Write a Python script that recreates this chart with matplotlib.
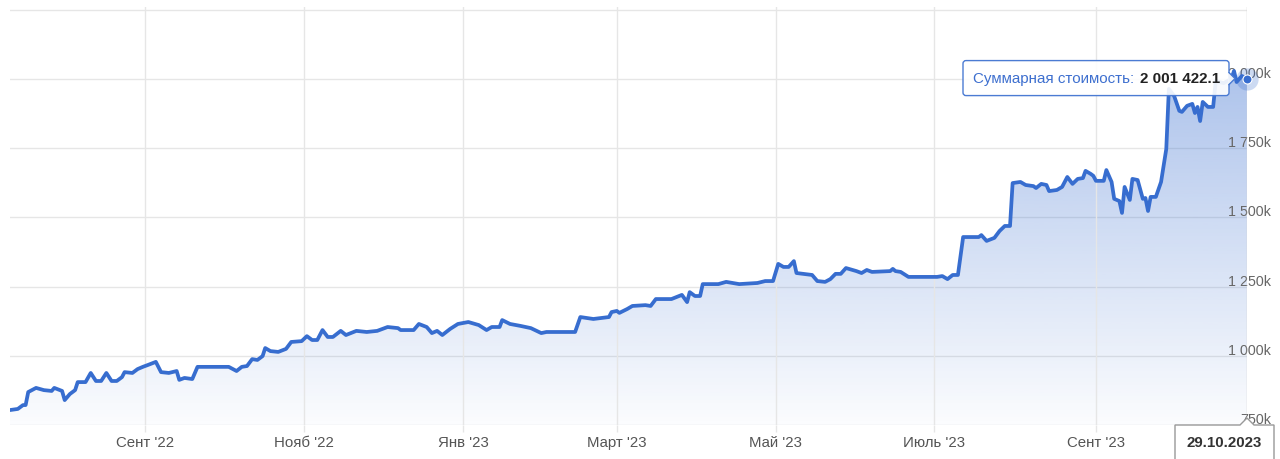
import matplotlib
matplotlib.use("Agg")
import numpy as np
import pandas as pd
import matplotlib.pyplot as plt
import matplotlib.dates as mdates
from matplotlib.colors import to_rgb
from matplotlib.patches import FancyBboxPatch, Polygon
from matplotlib.transforms import IdentityTransform

plt.rcParams["font.family"] = ["Liberation Sans", "DejaVu Sans"]

# portfolio value, thousands
dates = [
    "2022-07-11", "2022-07-14", "2022-07-16", "2022-07-17", "2022-07-18", "2022-07-21",
    "2022-07-24", "2022-07-27", "2022-07-28", "2022-07-31", "2022-08-01", "2022-08-03",
    "2022-08-05", "2022-08-06", "2022-08-09", "2022-08-11", "2022-08-13", "2022-08-15",
    "2022-08-17", "2022-08-19", "2022-08-21", "2022-08-23", "2022-08-24", "2022-08-27",
    "2022-08-29", "2022-08-31", "2022-09-02", "2022-09-05", "2022-09-07", "2022-09-10",
    "2022-09-13", "2022-09-14", "2022-09-16", "2022-09-19", "2022-09-21", "2022-10-03",
    "2022-10-06", "2022-10-08", "2022-10-10", "2022-10-12", "2022-10-14", "2022-10-16",
    "2022-10-17", "2022-10-19", "2022-10-22", "2022-10-25", "2022-10-27", "2022-10-31",
    "2022-11-02", "2022-11-04", "2022-11-06", "2022-11-08", "2022-11-10", "2022-11-12",
    "2022-11-15", "2022-11-17", "2022-11-21", "2022-11-25", "2022-11-29", "2022-12-03",
    "2022-12-07", "2022-12-08", "2022-12-13", "2022-12-15", "2022-12-18", "2022-12-20",
    "2022-12-22", "2022-12-24", "2022-12-27", "2022-12-30", "2023-01-03", "2023-01-07",
    "2023-01-10", "2023-01-12", "2023-01-15", "2023-01-16", "2023-01-19", "2023-01-23",
    "2023-01-27", "2023-01-31", "2023-02-02", "2023-02-13", "2023-02-15", "2023-02-20",
    "2023-02-26", "2023-02-27", "2023-03-01", "2023-03-02", "2023-03-05", "2023-03-07",
    "2023-03-12", "2023-03-14", "2023-03-16", "2023-03-22", "2023-03-26", "2023-03-28",
    "2023-03-29", "2023-03-31", "2023-04-02", "2023-04-03", "2023-04-09", "2023-04-12",
    "2023-04-17", "2023-04-24", "2023-04-27", "2023-04-30", "2023-05-02", "2023-05-04",
    "2023-05-06", "2023-05-08", "2023-05-09", "2023-05-15", "2023-05-17", "2023-05-20",
    "2023-05-22", "2023-05-24", "2023-05-26", "2023-05-28", "2023-06-01", "2023-06-03",
    "2023-06-05", "2023-06-07", "2023-06-14", "2023-06-15", "2023-06-16", "2023-06-18",
    "2023-06-21", "2023-07-02", "2023-07-04", "2023-07-06", "2023-07-08", "2023-07-10",
    "2023-07-12", "2023-07-18", "2023-07-19", "2023-07-21", "2023-07-24", "2023-07-26",
    "2023-07-28", "2023-07-30", "2023-07-31", "2023-08-03", "2023-08-05", "2023-08-08",
    "2023-08-09", "2023-08-11", "2023-08-13", "2023-08-14", "2023-08-17", "2023-08-19",
    "2023-08-21", "2023-08-23", "2023-08-25", "2023-08-27", "2023-08-28", "2023-08-30",
    "2023-08-31", "2023-09-01", "2023-09-04", "2023-09-05", "2023-09-07", "2023-09-08",
    "2023-09-10", "2023-09-11", "2023-09-12", "2023-09-14", "2023-09-15", "2023-09-17",
    "2023-09-19", "2023-09-20", "2023-09-21", "2023-09-22", "2023-09-24", "2023-09-26",
    "2023-09-28", "2023-09-29", "2023-10-01", "2023-10-03", "2023-10-04", "2023-10-06",
    "2023-10-08", "2023-10-09", "2023-10-10", "2023-10-11", "2023-10-12", "2023-10-14",
    "2023-10-16", "2023-10-17", "2023-10-20", "2023-10-23", "2023-10-24", "2023-10-25",
    "2023-10-27", "2023-10-29",
]
values = [
    804, 808, 822, 822, 869, 884,
    876, 873, 884, 873, 840, 862,
    876, 905, 905, 938, 909, 909,
    938, 909, 909, 923, 941, 938,
    952, 960, 967, 978, 941, 938,
    945, 913, 920, 916, 960, 960,
    945, 960, 963, 988, 985, 999,
    1028, 1017, 1014, 1025, 1050, 1053,
    1071, 1057, 1057, 1093, 1068, 1068,
    1090, 1075, 1090, 1086, 1090, 1104,
    1100, 1093, 1093, 1115, 1104, 1082,
    1090, 1075, 1097, 1115, 1122, 1111,
    1093, 1104, 1104, 1129, 1115, 1108,
    1100, 1082, 1086, 1086, 1140, 1133,
    1140, 1158, 1162, 1155, 1169, 1180,
    1183, 1180, 1205, 1205, 1220, 1194,
    1230, 1216, 1216, 1259, 1259, 1267,
    1259, 1263, 1270, 1270, 1332, 1321,
    1321, 1342, 1299, 1292, 1270, 1267,
    1277, 1296, 1296, 1317, 1306, 1299,
    1310, 1303, 1306, 1314, 1306, 1303,
    1285, 1285, 1288, 1277, 1292, 1292,
    1429, 1429, 1436, 1415, 1426, 1451,
    1469, 1469, 1624, 1628, 1617, 1613,
    1606, 1621, 1617, 1595, 1599, 1610,
    1646, 1621, 1639, 1642, 1668, 1657,
    1650, 1632, 1632, 1671, 1628, 1567,
    1559, 1516, 1610, 1563, 1639, 1635,
    1567, 1570, 1523, 1574, 1574, 1628,
    1747, 1964, 1939, 1885, 1881, 1903,
    1910, 1877, 1899, 1848, 1917, 1899,
    1899, 1993, 1985, 2000, 2029, 1989,
    2011, 2001.4221,
]

tick_dates = ["2022-09-01", "2022-11-01", "2023-01-01", "2023-03-01",
              "2023-05-01", "2023-07-01", "2023-09-01"]
tick_labels = ["Сент '22", "Нояб '22", "Янв '23", "Март '23",
               "Май '23", "Июль '23", "Сент '23"]
y_ticks = [750, 1000, 1250, 1500, 1750, 2000, 2250]
y_labels = ["750k", "1 000k", "1 250k", "1 500k", "1 750k", "2 000k", ""]

tooltip_name = "Суммарная стоимость: "
tooltip_value = "2 001 422.1"
tooltip_date = "29.10.2023"

line_color = "#376dcf"
grid_color = "#e6e6e6"
y_min, y_max = 750, 2260

fig = plt.figure(figsize=(12.8, 4.6), dpi=100)
ax = fig.add_axes([10 / 1280, 34 / 460, 1237 / 1280, 418 / 460])

x = mdates.date2num(pd.to_datetime(dates))

# gradient area under the line
fill = ax.fill_between(x, values, y_min, color="none", lw=0)
grad = np.zeros((256, 1, 4))
grad[..., :3] = to_rgb(line_color)
grad[:, 0, 3] = np.linspace(0.02, 0.48, 256)
im = ax.imshow(grad, extent=[x[0], x[-1], y_min, y_max], origin="lower",
               aspect="auto", zorder=1, interpolation="bilinear")
im.set_clip_path(fill.get_paths()[0], transform=ax.transData)

ax.plot(x, values, color=line_color, lw=2.7, solid_joinstyle="round",
        solid_capstyle="round", zorder=3)

ax.set_xlim(x[0], x[-1])
ax.set_ylim(y_min, y_max)

# grid
for v in y_ticks:
    ax.axhline(v, color=grid_color, lw=1, zorder=0)
ax.set_xticks(mdates.date2num(pd.to_datetime(tick_dates)))
ax.set_xticklabels(tick_labels)
ax.set_yticks([])
ax.grid(axis="x", color=grid_color, lw=1, zorder=0)
ax.tick_params(axis="x", length=5, width=1, color=grid_color, pad=2.5,
               labelsize=10.8, labelcolor="#555555")
for s in ax.spines.values():
    s.set_visible(False)

for v, lab in zip(y_ticks, y_labels):
    ax.annotate(lab, xy=(1, v), xycoords=("axes fraction", "data"),
                xytext=(24, 6), textcoords="offset pixels",
                ha="right", va="center", fontsize=10.3, color="#666666", zorder=2)

# crosshair and hovered point
ax.axvline(x[-1], color="#cfcfcf", lw=1, zorder=2)
ax.plot(x[-1], values[-1], "o", ms=16, color=line_color, alpha=0.25,
        mec="none", clip_on=False, zorder=4)
ax.plot(x[-1], values[-1], "o", ms=6.5, color=line_color, mec="white",
        mew=0.8, clip_on=False, zorder=5)

# tooltip boxes, in pixels relative to hovered point
px, py = ax.transData.transform((x[-1], values[-1]))
ident = IdentityTransform()

left, right = px - 284, px - 18
box = FancyBboxPatch((left, py - 17), right - left, 35,
                     boxstyle="round,pad=0,rounding_size=3", transform=ident,
                     fc=(1, 1, 1, 0.9), ec="#4b7bd3", lw=1, zorder=6)
fig.add_artist(box)
notch = Polygon([(right - 1, py + 6), (right + 6, py), (right - 1, py - 6)],
                closed=True, transform=ident, fc=(1, 1, 1, 0.9), ec="none", zorder=7)
fig.add_artist(notch)
fig.add_artist(plt.Line2D([right, right + 6, right], [py + 6, py, py - 6],
                          transform=ident, color="#4b7bd3", lw=1, zorder=7))
name_txt = fig.text(left + 10, py + 1, tooltip_name.rstrip(), transform=ident,
                    color="#3d6fcf", fontsize=10.9, ha="left", va="center", zorder=8)
fig.add_artist(plt.matplotlib.text.Annotation(
    tooltip_value, xy=(1, 0.5), xycoords=name_txt, xytext=(6, 0),
    textcoords="offset pixels", color="#222222", fontsize=10.9,
    fontweight="bold", ha="left", va="center", zorder=8))

bx0, bx1 = px - 72, px + 27
by = 34
date_box = Polygon([(bx0, -5), (bx0, by), (px - 7, by), (px, by + 7),
                    (px + 7, by), (bx1, by), (bx1, -5)], closed=True,
                   transform=ident, fc="white", ec="#999999", lw=1, zorder=6)
fig.add_artist(date_box)
fig.text((bx0 + bx1) / 2, 17, tooltip_date, transform=ident, color="#333333",
         fontsize=10.8, fontweight="bold", ha="center", va="center", zorder=8)

fig.savefig("out.png", dpi=100)
